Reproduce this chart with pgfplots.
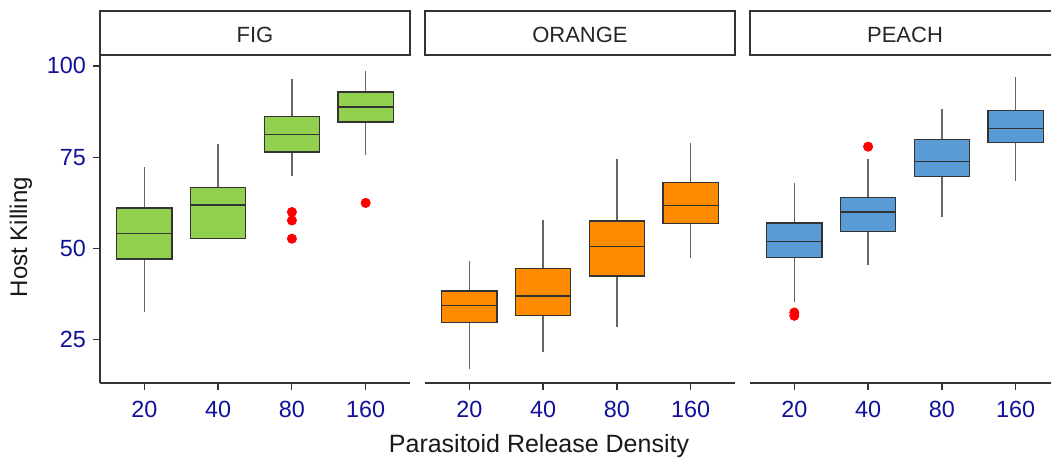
\documentclass[border=0pt]{standalone}
\usepackage{fontspec}
\setmainfont{Liberation Sans}
\usepackage{pgfplots}
\pgfplotsset{compat=1.18}

\definecolor{figgreen}{HTML}{92D050}
\definecolor{orangefill}{HTML}{FF8C00}
\definecolor{peachblue}{HTML}{5B9BD5}
\definecolor{boxline}{HTML}{333333}
\definecolor{whisk}{HTML}{666666}
\definecolor{tickblue}{HTML}{10109A}

% one box: colour, left, centre, right, lower whisker, Q1, median, Q3, upper whisker
\newcommand{\bx}[9]{%
  \addplot[draw=whisk, line width=0.75pt] coordinates {(#3,#5) (#3,#6)};
  \addplot[draw=whisk, line width=0.75pt] coordinates {(#3,#8) (#3,#9)};
  \addplot[draw=boxline, fill=#1, line width=0.7pt, line join=miter]
    coordinates {(#2,#6) (#4,#6) (#4,#8) (#2,#8)} -- cycle;
  \addplot[draw=boxline, line width=0.7pt] coordinates {(#2,#7) (#4,#7)};}

\pgfplotsset{
  panel/.style={
    anchor=south west, width=155pt, height=164pt, scale only axis,
    xmin=0.4, xmax=4.6, ymin=13.2, ymax=103,
    axis x line*=bottom,
    axis line style={draw=boxline, line width=0.6pt},
    xtick={1,2,3,4}, xticklabels={20,40,80,160},
    tick align=outside, major tick length=3.5pt,
    tick style={draw=boxline, line width=0.6pt},
    ticklabel style={font=\fontsize{11.7}{13}\selectfont, text=tickblue},
    /pgf/number format/assume math mode=true,
    xticklabel style={yshift=-2pt},
    clip=false,
  },
  outl/.style={only marks, mark=*, mark size=2.3pt, draw=red, fill=red},
}

\begin{document}
\begin{tikzpicture}
\useasboundingbox (0,0) rectangle (525.5pt,229.5pt);

\begin{axis}[panel, name=p1, at={(50pt,38pt)},
  axis y line*=left, ytick={25,50,75,100}]
  \bx{figgreen}{0.625}{1}{1.375}{32.5}{47.1}{54.2}{61.1}{72.2}
  \bx{figgreen}{1.625}{2}{2.375}{52.7}{52.7}{61.9}{66.8}{78.7}
  \bx{figgreen}{2.625}{3}{3.375}{70.0}{76.4}{81.3}{86.1}{96.4}
  \bx{figgreen}{3.625}{4}{4.375}{75.6}{84.6}{88.8}{92.9}{98.7}
  \addplot[outl] coordinates {(3,60.0) (3,57.7) (3,52.7) (4,62.5)};
\end{axis}

\begin{axis}[panel, name=p2, at={(212.5pt,38pt)}, axis y line=none]
  \bx{orangefill}{0.625}{1}{1.375}{17.0}{29.7}{34.4}{38.4}{46.7}
  \bx{orangefill}{1.625}{2}{2.375}{21.7}{31.7}{37.0}{44.6}{57.8}
  \bx{orangefill}{2.625}{3}{3.375}{28.4}{42.5}{50.5}{57.6}{74.5}
  \bx{orangefill}{3.625}{4}{4.375}{47.4}{56.9}{61.8}{68.1}{79.0}
\end{axis}

\begin{axis}[panel, name=p3, at={(375pt,38pt)}, axis y line=none]
  \bx{peachblue}{0.625}{1}{1.375}{35.5}{47.5}{51.9}{57.0}{67.9}
  \bx{peachblue}{1.625}{2}{2.375}{45.5}{54.7}{60.0}{64.0}{74.5}
  \bx{peachblue}{2.625}{3}{3.375}{58.7}{69.8}{73.8}{79.8}{88.3}
  \bx{peachblue}{3.625}{4}{4.375}{68.5}{79.1}{82.8}{87.8}{97.1}
  \addplot[outl] coordinates {(1,32.5) (1,31.6) (2,77.9)};
\end{axis}

% facet strips
\foreach \p/\t in {p1/FIG, p2/ORANGE, p3/PEACH}{
  \draw[draw=boxline, line width=0.6pt, fill=white]
    (\p.north west) rectangle ([yshift=22pt]\p.north east);
  \node[font=\fontsize{11}{13}\selectfont, text=black!85]
    at ([yshift=10.2pt]\p.north) {\t};
}

\node[font=\fontsize{12.5}{14}\selectfont, anchor=base, text=black!90]
  at (269.5pt,3pt) {Parasitoid Release Density};
\node[font=\fontsize{12}{14}\selectfont, anchor=base, rotate=90, text=black!90]
  at (13.5pt,111pt) {Host Killing};
\end{tikzpicture}
\end{document}
